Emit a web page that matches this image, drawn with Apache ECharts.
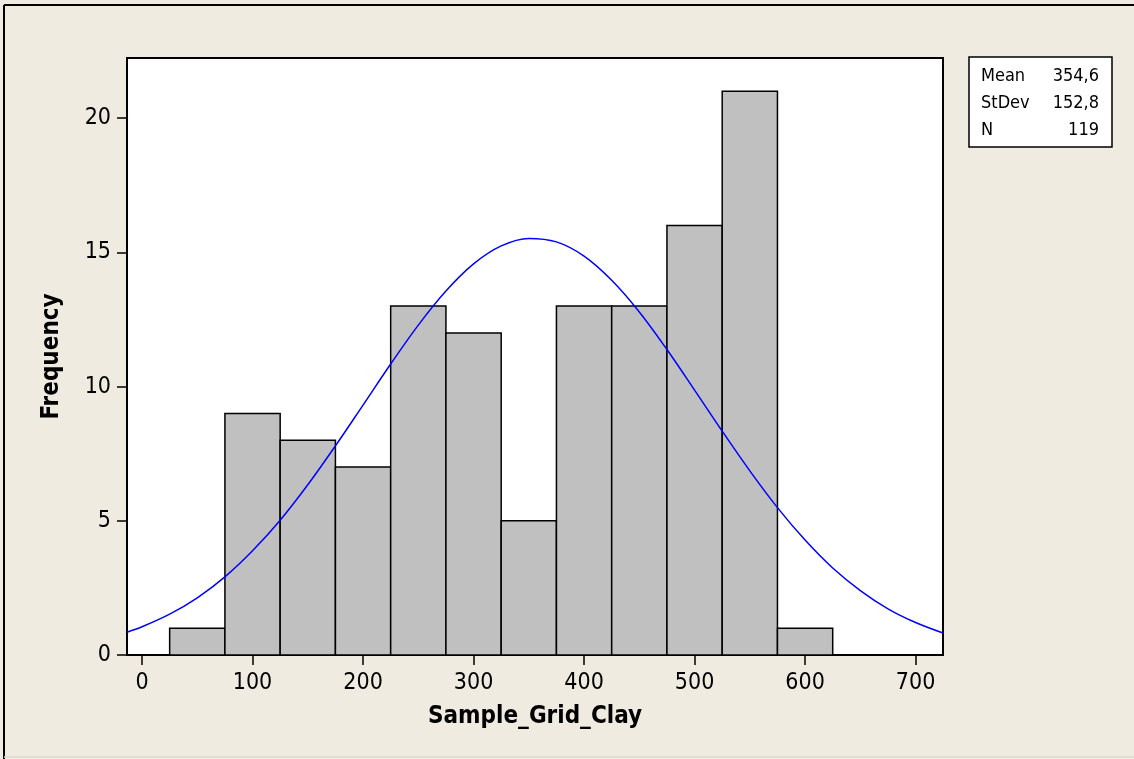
<!DOCTYPE html>
<html>
<head>
<meta charset="utf-8">
<script src="https://cdn.jsdelivr.net/npm/echarts@6/dist/echarts.min.js"></script>
<style>
html,body{margin:0;padding:0;background:#EFEBE1;}
#chart{width:1134px;height:759px;}
</style>
</head>
<body>
<div id="chart"></div>
<script>
// Histogram bins (lower/upper edges) and frequencies
const binLower = [25, 75, 125, 175, 225, 275, 325, 375, 425, 475, 525, 575];
const binUpper = [75, 125, 175, 225, 275, 325, 375, 425, 475, 525, 575, 625];
const counts   = [1, 9, 8, 7, 13, 12, 5, 13, 13, 16, 21, 1];

// Fitted normal curve
const curveX = [-13.6, 0, 25, 50, 75, 100, 125, 150, 175, 200, 225, 250, 275, 300, 325, 350,
                375, 400, 425, 450, 475, 500, 525, 550, 575, 600, 625, 650, 675, 700, 724.8];
const curveY = [0.85, 1.05, 1.52, 2.13, 2.91, 3.88, 5.02, 6.34, 7.79, 9.31, 10.84, 12.29, 13.56, 14.57, 15.24, 15.52,
                15.39, 14.86, 13.96, 12.78, 11.38, 9.87, 8.34, 6.86, 5.49, 4.28, 3.24, 2.40, 1.72, 1.21, 0.82];

// Axis ticks
const xTicks = [0, 100, 200, 300, 400, 500, 600, 700];
const yTicks = [0, 5, 10, 15, 20];

// Stats legend
const statLabels = ['Mean', 'StDev', 'N'];
const statValues = ['354,6', '152,8', '119'];

const FONT = '"DejaVu Sans Condensed", "DejaVu Sans", sans-serif';

const chart = echarts.init(document.getElementById('chart'), null, {renderer: 'canvas'});

const histData = binLower.map((lo, i) => [lo, binUpper[i], counts[i]]);
const curveData = curveX.map((x, i) => [x, curveY[i]]);

const statGraphics = [];
statGraphics.push({
  type: 'rect', shape: {x: 969, y: 57, width: 143, height: 90},
  style: {fill: '#FFFFFF', stroke: '#000', lineWidth: 1.5}, z: 10
});
statLabels.forEach((lab, i) => {
  statGraphics.push({
    type: 'text', x: 981, y: 76 + i * 27.3,
    style: {text: lab, fill: '#000', font: '18px ' + FONT, align: 'left', verticalAlign: 'middle'}, z: 11
  });
  statGraphics.push({
    type: 'text', x: 1099, y: 76 + i * 27.3,
    style: {text: statValues[i], fill: '#000', font: '18px ' + FONT, align: 'right', verticalAlign: 'middle'}, z: 11
  });
});

const option = {
  backgroundColor: '#EFEBE1',
  animation: false,
  grid: {
    left: 127, top: 58, width: 816, height: 597,
    show: true, backgroundColor: '#FFFFFF', borderColor: '#000', borderWidth: 2,
    outerBoundsMode: 'none', containLabel: false
  },
  xAxis: {
    type: 'value', min: -13.6, max: 724.8,
    name: 'Sample_Grid_Clay', nameLocation: 'middle', nameGap: 50,
    nameTextStyle: {fontFamily: FONT, fontSize: 24, fontWeight: 'bold', color: '#000'},
    axisLine: {show: true, onZero: false, lineStyle: {color: '#000', width: 2}},
    axisTick: {show: true, inside: false, length: 10, lineStyle: {color: '#000', width: 1.5}, customValues: xTicks},
    axisLabel: {show: true, margin: 17, fontFamily: FONT, fontSize: 23, color: '#000', customValues: xTicks},
    splitLine: {show: false}
  },
  yAxis: {
    type: 'value', min: 0, max: 22.24,
    name: 'Frequency', nameLocation: 'middle', nameGap: 63, nameRotate: 90,
    nameTextStyle: {fontFamily: FONT, fontSize: 24, fontWeight: 'bold', color: '#000'},
    axisLine: {show: true, onZero: false, lineStyle: {color: '#000', width: 2}},
    axisTick: {show: true, inside: false, length: 10, lineStyle: {color: '#000', width: 1.5}, customValues: yTicks},
    axisLabel: {show: true, margin: 16, fontFamily: FONT, fontSize: 23, color: '#000', customValues: yTicks},
    splitLine: {show: false}
  },
  series: [
    {
      type: 'custom',
      data: histData,
      encode: {x: [0, 1], y: 2},
      z: 2,
      renderItem: function (params, api) {
        const p0 = api.coord([api.value(0), api.value(2)]);
        const p1 = api.coord([api.value(1), 0]);
        return {
          type: 'rect',
          shape: {x: p0[0], y: p0[1], width: p1[0] - p0[0], height: p1[1] - p0[1]},
          style: {fill: '#C0C0C0', stroke: '#000', lineWidth: 1.5}
        };
      }
    },
    {
      type: 'line',
      data: curveData,
      smooth: 0.35,
      showSymbol: false,
      symbol: 'none',
      z: 5,
      lineStyle: {color: '#0000FF', width: 1.5},
      clip: true
    }
  ],
  graphic: [
    {type: 'line', shape: {x1: 4, y1: 5, x2: 1134, y2: 5}, style: {stroke: '#000', lineWidth: 2}, z: 20},
    {type: 'line', shape: {x1: 4, y1: 5, x2: 4, y2: 759}, style: {stroke: '#000', lineWidth: 2}, z: 20},
    {type: 'line', shape: {x1: 4, y1: 757, x2: 1134, y2: 757}, style: {stroke: '#DEDAD0', lineWidth: 1.5}, z: 20}
  ].concat(statGraphics)
};

chart.setOption(option);
</script>
</body>
</html>
